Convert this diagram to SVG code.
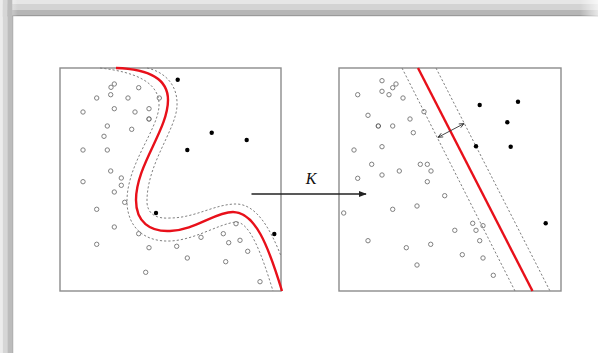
<svg xmlns="http://www.w3.org/2000/svg" width="598" height="353" viewBox="0 0 598 353">
<defs>
<style>
.box{fill:#fff;stroke:#8c8c8c;stroke-width:1.4}
.red{fill:none;stroke:#e8101a;stroke-width:2.4}
.dash{fill:none;stroke:#808080;stroke-width:1;stroke-dasharray:2.2 2}
.o{fill:none;stroke:#808080;stroke-width:1}
.od{fill:none;stroke:#4a4a4a;stroke-width:1}
.f{fill:#000}
.conn{stroke:#222;stroke-width:1.3;fill:none}
.lbl{font-family:"Liberation Serif",serif;font-style:italic;font-size:16px;fill:#111}
</style>
<marker id="ah" viewBox="0 0 10 10" refX="9" refY="5" markerWidth="8" markerHeight="8" markerUnits="userSpaceOnUse" orient="auto">
<path d="M0,1 L10,5 L0,9 Z" fill="#222"/>
</marker>
<marker id="sa" viewBox="0 0 10 10" refX="9" refY="5" markerWidth="6" markerHeight="6" markerUnits="userSpaceOnUse" orient="auto-start-reverse">
<path d="M1,1.5 L9,5 L1,8.5" fill="none" stroke="#333" stroke-width="1.4"/>
</marker>
<linearGradient id="tg" x1="0" y1="0" x2="1" y2="0">
<stop offset="0" stop-color="#fff" stop-opacity="0.8"/>
<stop offset="0.03" stop-color="#fff" stop-opacity="0"/>
<stop offset="0.97" stop-color="#fff" stop-opacity="0"/>
<stop offset="1" stop-color="#fff" stop-opacity="0.7"/>
</linearGradient>
</defs>
<rect x="0" y="0" width="598" height="353" fill="#fff"/>
<g id="frame">
<rect x="0" y="0" width="598" height="4" fill="#e6e6e6"/>
<rect x="0" y="4" width="598" height="6" fill="#d3d3d3"/>
<rect x="0" y="10" width="598" height="5" fill="#b6b6b6"/>
<rect x="0" y="15" width="598" height="1.2" fill="#9a9a9a"/>
<rect x="0" y="0" width="598" height="16" fill="url(#tg)"/>
<rect x="0" y="0" width="2.7" height="353" fill="#ececec"/>
<rect x="2.7" y="0" width="4.6" height="353" fill="#d6d6d6"/>
<rect x="7.3" y="0" width="5" height="353" fill="#bcbcbc"/>
<rect x="12.3" y="16" width="0.9" height="337" fill="#9a9a9a"/>
</g>
<g id="input-space">
<rect class="box" x="60" y="68" width="221" height="223"/>
<path class="dash" d="M100,68 C135,72 160,82 159,106 C158,130 126,165 127,203 C128,228 145,242 170,241 C195,240 218,224 236,222 C250,222 262,255 273,291"/>
<path class="dash" d="M147,68 C165,72 178,85 177,106 C176,130 146,165 147,203 C148,214 156,219 170,218 C195,218 215,204 236,204 C256,204 270,228 281,256"/>
<path class="red" d="M116,68 C148,69 168,78 168,100 C168,130 136,165 136,200 C136,222 150,232 170,231 C195,230 215,212 233,212 C255,212 268,245 282,291"/>
<g>
<circle class="o" cx="114.3" cy="84" r="2.2"/><circle class="o" cx="111" cy="87.3" r="2.2"/><circle class="o" cx="138.7" cy="87.7" r="2.2"/>
<circle class="o" cx="110.7" cy="94.7" r="2.2"/><circle class="o" cx="96.7" cy="98" r="2.2"/><circle class="o" cx="128" cy="98" r="2.2"/>
<circle class="o" cx="159.3" cy="98" r="2.2"/><circle class="o" cx="83" cy="112" r="2.2"/><circle class="o" cx="114.3" cy="108.7" r="2.2"/>
<circle class="o" cx="135" cy="112" r="2.2"/><circle class="o" cx="149" cy="108.7" r="2.2"/><circle class="od" cx="149" cy="119" r="2.2"/>
<circle class="o" cx="107.3" cy="126" r="2.2"/><circle class="o" cx="131.7" cy="129.3" r="2.2"/><circle class="o" cx="104" cy="136.3" r="2.2"/>
<circle class="o" cx="83" cy="150" r="2.2"/><circle class="o" cx="107.3" cy="150" r="2.2"/><circle class="o" cx="110.7" cy="171" r="2.2"/>
<circle class="o" cx="121.3" cy="178" r="2.2"/><circle class="o" cx="83" cy="181.7" r="2.2"/><circle class="o" cx="121.3" cy="185.3" r="2.2"/>
<circle class="o" cx="114.3" cy="192" r="2.2"/><circle class="o" cx="124.7" cy="202.3" r="2.2"/><circle class="o" cx="96.7" cy="209.3" r="2.2"/>
<circle class="o" cx="114.3" cy="227" r="2.2"/><circle class="o" cx="138.7" cy="233.7" r="2.2"/><circle class="o" cx="96.7" cy="244.3" r="2.2"/>
<circle class="o" cx="149" cy="247.7" r="2.2"/><circle class="o" cx="145.7" cy="272.3" r="2.2"/>
<circle class="o" cx="176.7" cy="246.3" r="2.2"/><circle class="o" cx="187.3" cy="258" r="2.2"/><circle class="o" cx="201" cy="237.3" r="2.2"/>
<circle class="o" cx="223.3" cy="233.7" r="2.2"/><circle class="o" cx="228.7" cy="242.7" r="2.2"/><circle class="o" cx="236" cy="223.7" r="2.2"/>
<circle class="o" cx="240" cy="240.3" r="2.2"/><circle class="o" cx="247.7" cy="251.3" r="2.2"/><circle class="o" cx="225.7" cy="261.7" r="2.2"/>
<circle class="o" cx="260" cy="281.7" r="2.2"/>
<circle class="f" cx="156" cy="213" r="2.2"/><circle class="f" cx="274.3" cy="234" r="2.2"/>
<circle class="f" cx="177.7" cy="79.7" r="2.2"/><circle class="f" cx="211.7" cy="132.7" r="2.2"/>
<circle class="f" cx="246.7" cy="140" r="2.2"/><circle class="f" cx="187.3" cy="150" r="2.2"/>
</g>
</g>
<g id="feature-space">
<rect class="box" x="339" y="68" width="222" height="223"/>
<line class="dash" x1="402" y1="68" x2="515" y2="291"/>
<line class="dash" x1="436" y1="68" x2="550" y2="291"/>
<line class="red" x1="418" y1="68" x2="532.5" y2="291"/>
<line x1="438" y1="137.3" x2="464" y2="123.6" stroke="#333" stroke-width="0.9" marker-start="url(#sa)" marker-end="url(#sa)"/>
<g>
<circle class="o" cx="382" cy="80.7" r="2.2"/><circle class="o" cx="396" cy="84" r="2.2"/><circle class="o" cx="392.7" cy="87.7" r="2.2"/>
<circle class="o" cx="357.7" cy="94.7" r="2.2"/><circle class="o" cx="382" cy="91.3" r="2.2"/><circle class="o" cx="389" cy="94.7" r="2.2"/>
<circle class="o" cx="403" cy="98" r="2.2"/><circle class="o" cx="424" cy="111.7" r="2.2"/><circle class="o" cx="368" cy="115.3" r="2.2"/>
<circle class="o" cx="410" cy="119" r="2.2"/><circle class="od" cx="378.3" cy="126" r="2.2"/><circle class="o" cx="392.7" cy="126" r="2.2"/>
<circle class="o" cx="413.3" cy="132.7" r="2.2"/><circle class="o" cx="354" cy="150" r="2.2"/><circle class="o" cx="382" cy="146.7" r="2.2"/>
<circle class="o" cx="371.7" cy="164.3" r="2.2"/><circle class="o" cx="399.3" cy="171" r="2.2"/><circle class="o" cx="420.3" cy="164.3" r="2.2"/>
<circle class="o" cx="427.3" cy="164.3" r="2.2"/><circle class="o" cx="431" cy="171" r="2.2"/><circle class="o" cx="382" cy="175" r="2.2"/>
<circle class="o" cx="357.7" cy="178.3" r="2.2"/><circle class="o" cx="427.3" cy="181.7" r="2.2"/><circle class="o" cx="444.7" cy="195.7" r="2.2"/>
<circle class="o" cx="343.7" cy="213" r="2.2"/><circle class="o" cx="392.7" cy="209.3" r="2.2"/><circle class="o" cx="417" cy="206" r="2.2"/>
<circle class="o" cx="454.8" cy="230.3" r="2.2"/><circle class="o" cx="368" cy="240.7" r="2.2"/><circle class="o" cx="406.3" cy="247.7" r="2.2"/>
<circle class="o" cx="430.7" cy="244.3" r="2.2"/><circle class="o" cx="417" cy="265" r="2.2"/>
<circle class="o" cx="472.7" cy="223.3" r="2.2"/><circle class="o" cx="476" cy="230.3" r="2.2"/><circle class="o" cx="483" cy="225.7" r="2.2"/>
<circle class="o" cx="479.7" cy="240.7" r="2.2"/><circle class="o" cx="462.3" cy="254.7" r="2.2"/><circle class="o" cx="483" cy="258" r="2.2"/>
<circle class="o" cx="493.3" cy="275.3" r="2.2"/>
<circle class="f" cx="545.7" cy="223.3" r="2.2"/><circle class="f" cx="479.7" cy="105" r="2.2"/>
<circle class="f" cx="518" cy="101.7" r="2.2"/><circle class="f" cx="507.3" cy="122.3" r="2.2"/>
<circle class="f" cx="476" cy="146.3" r="2.2"/><circle class="f" cx="510.7" cy="146.7" r="2.2"/>
</g>
</g>
<g id="connectors">
<line class="conn" x1="251.5" y1="194" x2="366" y2="194" marker-end="url(#ah)"/>
<text class="lbl" x="311" y="183.5" text-anchor="middle">K</text>
</g>
</svg>
